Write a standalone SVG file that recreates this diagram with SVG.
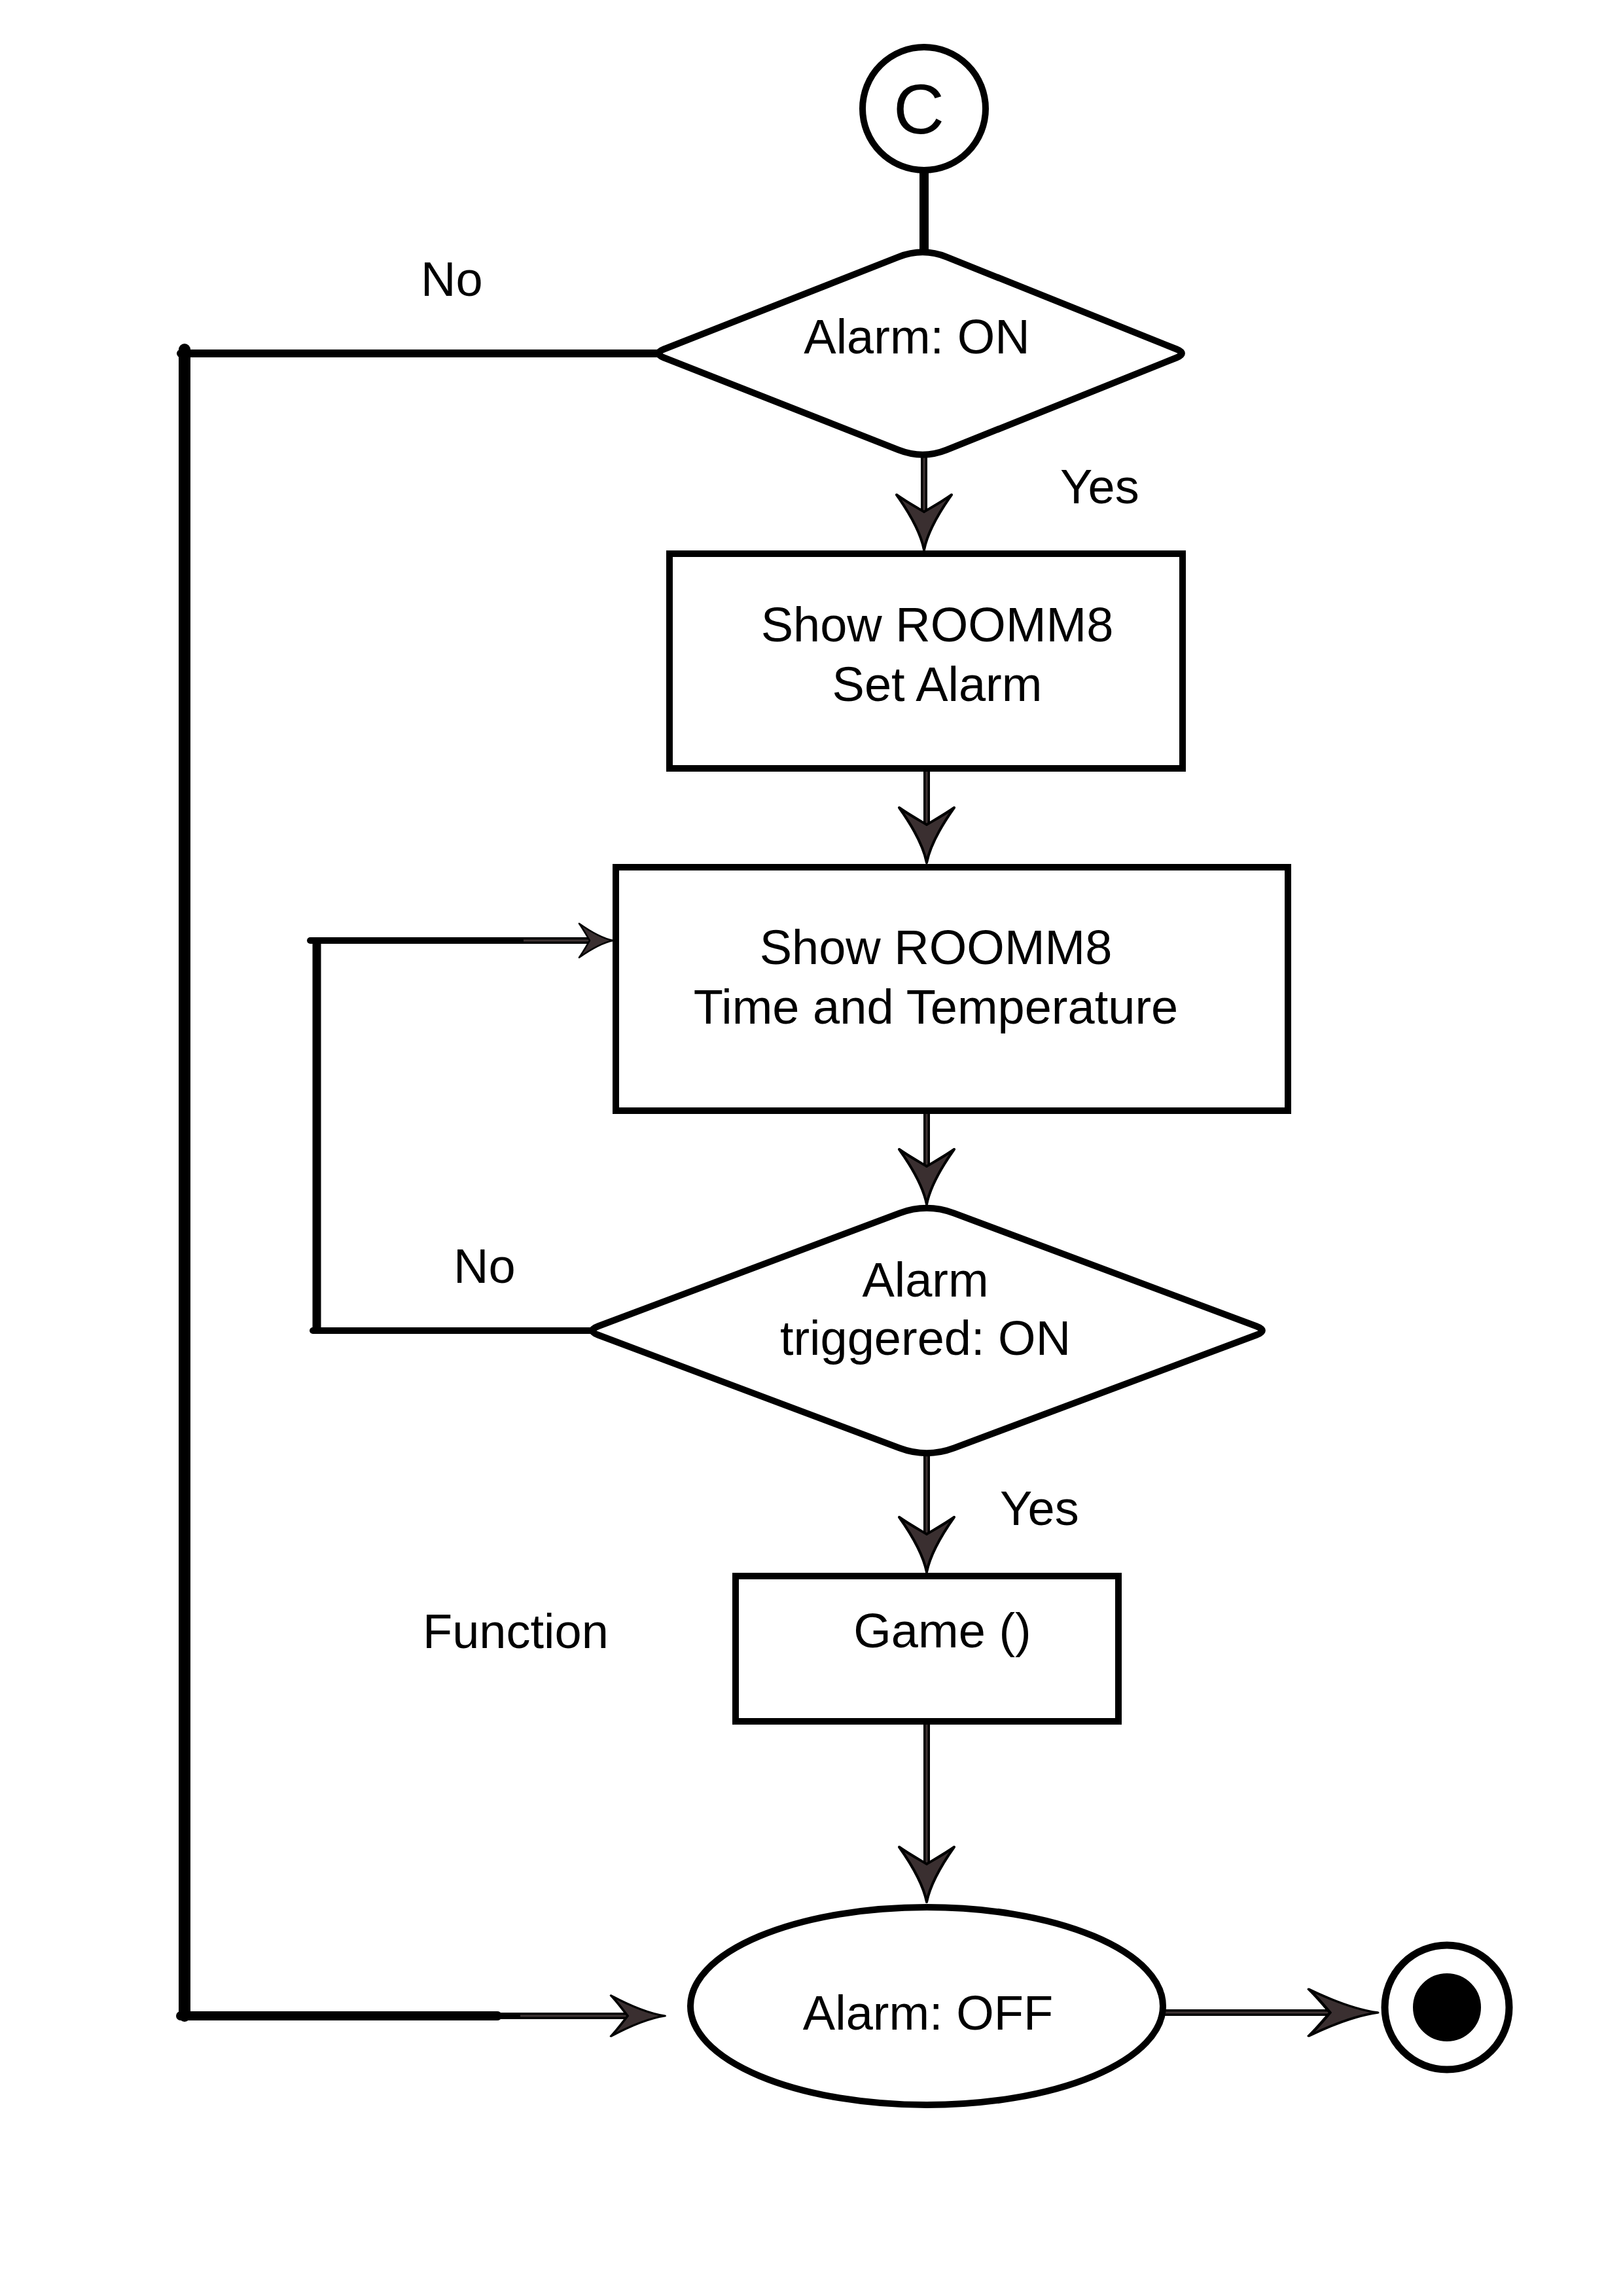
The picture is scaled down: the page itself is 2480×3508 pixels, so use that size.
<svg xmlns="http://www.w3.org/2000/svg" xmlns:xlink="http://www.w3.org/1999/xlink" width="2480" height="3508" viewBox="0 0 2480 3508">
<style>
  .shape{fill:#fff;stroke:#000;stroke-width:10}
  .txt{font-family:"Liberation Sans",Arial,sans-serif;font-size:74px;fill:#000}
  .big{font-size:108px}
  .mid{text-anchor:middle}
  .wire{fill:none;stroke:#000;stroke-linecap:round}
  .shaft{fill:none;stroke:#000;stroke-width:10}
  .shaftin{fill:none;stroke:#3f3434;stroke-width:3}
  .head{fill:#3a2f30;stroke:#000;stroke-width:4;stroke-linejoin:round}
</style>
<defs>
  <path id="ah" d="M0,0 C-30,-6 -60,-25 -84,-42 C-74,-28 -64,-10 -58,0 C-64,10 -74,28 -84,42 C-60,25 -30,6 0,0 Z"/>
</defs>
<rect x="0" y="0" width="2480" height="3508" fill="#fff"/>

<g id="connectors">
  <!-- C to diamond -->
  <line class="wire" x1="1412" y1="262" x2="1412" y2="386" stroke-width="14" stroke-linecap="butt"/>
  <!-- diamond1 -> rect1 -->
  <line class="shaft" x1="1412" y1="698" x2="1412" y2="790"/>
  <line class="shaftin" x1="1412" y1="698" x2="1412" y2="790"/>
  <use href="#ah" class="head" transform="translate(1412,840) rotate(90)"/>
  <!-- rect1 -> rect2 -->
  <line class="shaft" x1="1416" y1="1178" x2="1416" y2="1270"/>
  <line class="shaftin" x1="1416" y1="1178" x2="1416" y2="1270"/>
  <use href="#ah" class="head" transform="translate(1416,1318) rotate(90)"/>
  <!-- rect2 -> diamond2 -->
  <line class="shaft" x1="1416" y1="1701" x2="1416" y2="1790"/>
  <line class="shaftin" x1="1416" y1="1701" x2="1416" y2="1790"/>
  <use href="#ah" class="head" transform="translate(1416,1840) rotate(90)"/>
  <!-- diamond2 -> game -->
  <line class="shaft" x1="1416" y1="2224" x2="1416" y2="2350"/>
  <line class="shaftin" x1="1416" y1="2224" x2="1416" y2="2350"/>
  <use href="#ah" class="head" transform="translate(1416,2402) rotate(90)"/>
  <!-- game -> ellipse -->
  <line class="shaft" x1="1416" y1="2634" x2="1416" y2="2855"/>
  <line class="shaftin" x1="1416" y1="2634" x2="1416" y2="2855"/>
  <use href="#ah" class="head" transform="translate(1416,2906) rotate(90)"/>
  <!-- No branch of Alarm: ON -->
  <line class="wire" x1="1004" y1="540" x2="276" y2="540" stroke-width="12"/>
  <line class="wire" x1="282" y1="534" x2="282" y2="3080" stroke-width="18" stroke-linecap="butt"/>
  <line class="wire" x1="276" y1="3080" x2="760" y2="3080" stroke-width="14"/>
  <line class="shaft" x1="755" y1="3080" x2="970" y2="3080"/>
  <line class="shaftin" x1="795" y1="3080" x2="970" y2="3080"/>
  <use href="#ah" class="head" transform="translate(1016,3080) scale(0.98,0.74)"/>
  <!-- No branch of Alarm triggered (loop) -->
  <line class="wire" x1="906" y1="2033" x2="478" y2="2033" stroke-width="10"/>
  <line class="wire" x1="484" y1="2030" x2="484" y2="1440" stroke-width="13" stroke-linecap="butt"/>
  <line class="wire" x1="474" y1="1437" x2="780" y2="1437" stroke-width="10"/>
  <line class="shaft" x1="775" y1="1437" x2="905" y2="1437"/>
  <line class="shaftin" x1="800" y1="1437" x2="905" y2="1437"/>
  <use href="#ah" class="head" transform="translate(937,1437) scale(0.62)"/>
  <!-- ellipse -> end -->
  <line class="shaft" x1="1766" y1="3075" x2="2050" y2="3075"/>
  <line class="shaftin" x1="1775" y1="3075" x2="2050" y2="3075"/>
  <use href="#ah" class="head" transform="translate(2105,3075) scale(1.25,0.85)"/>
</g>

<g id="start-connector">
  <circle class="shape" cx="1412" cy="166" r="94"/>
  <text class="txt big mid" x="1404" y="204">C</text>
</g>

<g id="alarm-on">
  <path class="shape" d="M1014.5,533.5 L1372.9,392.6 Q1410,378 1446.4,392.6 L1797.8,533.5 Q1814,540 1797.8,546.5 L1446.4,687.4 Q1410,702 1372.9,687.4 L1014.5,546.5 Q998,540 1014.5,533.5 Z"/>
  <text class="txt mid" x="1401" y="540">Alarm: ON</text>
</g>

<g id="set-alarm">
  <rect class="shape" x="1023" y="846" width="784" height="328"/>
  <text class="txt mid" x="1432" y="980">Show ROOMM8</text>
  <text class="txt mid" x="1432" y="1071">Set Alarm</text>
</g>

<g id="time-temp">
  <rect class="shape" x="941" y="1325" width="1027" height="372"/>
  <text class="txt mid" x="1430" y="1473">Show ROOMM8</text>
  <text class="txt mid" x="1430" y="1564">Time and Temperature</text>
</g>

<g id="alarm-triggered">
  <path class="shape" d="M914.2,2026.2 L1374.4,1853.6 Q1416,1838 1457.8,1853.6 L1919.7,2026.2 Q1938,2033 1919.7,2039.8 L1457.8,2212.4 Q1416,2228 1374.4,2212.4 L914.2,2039.8 Q896,2033 914.2,2026.2 Z"/>
  <text class="txt mid" x="1414" y="1981">Alarm</text>
  <text class="txt mid" x="1414" y="2070">triggered: ON</text>
</g>

<g id="game">
  <rect class="shape" x="1124" y="2408" width="585" height="222"/>
  <text class="txt mid" x="1440" y="2517">Game ()</text>
</g>

<g id="alarm-off">
  <ellipse class="shape" cx="1416" cy="3065" rx="361" ry="151"/>
  <text class="txt mid" x="1418" y="3101">Alarm: OFF</text>
</g>

<g id="end">
  <circle cx="2211" cy="3067" r="95" fill="#fff" stroke="#000" stroke-width="11"/>
  <circle cx="2211" cy="3067" r="48" fill="#000" stroke="#000" stroke-width="8"/>
</g>

<g id="labels">
  <text class="txt" x="643" y="452">No</text>
  <text class="txt" x="1620" y="769">Yes</text>
  <text class="txt" x="693" y="1960">No</text>
  <text class="txt" x="1528" y="2330">Yes</text>
  <text class="txt" x="646" y="2518">Function</text>
</g>
</svg>
